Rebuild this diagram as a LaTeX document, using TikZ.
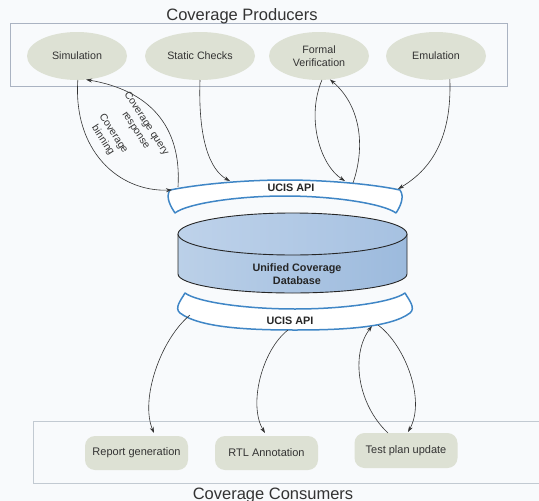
\documentclass[tikz,border=0pt]{standalone}
\usepackage{fontspec}
\setmainfont{Liberation Sans}
\usetikzlibrary{arrows.meta,shapes.geometric}
\definecolor{bg}{HTML}{F8FAFC}
\definecolor{prod}{HTML}{DDE1D4}
\definecolor{boxline}{HTML}{AAB3C2}
\definecolor{boxline2}{HTML}{C2CAD2}
\definecolor{bandblue}{HTML}{3F86C6}
\definecolor{txt}{HTML}{333333}
\definecolor{cyltopA}{HTML}{BED2EA}
\definecolor{cyltopB}{HTML}{A6C1E1}
\definecolor{cylside}{HTML}{9CBADD}
\definecolor{cylhi}{HTML}{BBD0E8}
\begin{document}
\begin{tikzpicture}[x=1pt,y=-1pt,
  prodnode/.style={ellipse, fill=prod, minimum width=100pt, minimum height=48pt, inner sep=0pt, outer sep=0pt, align=center, font=\fontsize{10.7}{12.5}\selectfont, text=txt},
  consnode/.style={rectangle, rounded corners=10pt, fill=prod, minimum width=103pt, minimum height=34pt, inner sep=0pt, outer sep=0pt, font=\fontsize{11}{13}\selectfont, text=txt},
  conn/.style={draw=txt, line width=0.6pt, -{Stealth[length=6pt,width=4pt]}},
  band/.style={draw=bandblue, line width=1.5pt, fill=white, line join=round},
  titletext/.style={font=\fontsize{16.5}{19}\selectfont, text=txt, anchor=base, inner sep=0pt},
  lbl/.style={font=\fontsize{10.3}{12.6}\selectfont, text=txt, align=center, rotate=-57, inner sep=0pt},
  api/.style={font=\bfseries\fontsize{10.8}{13}\selectfont, text=black!85, inner sep=0pt}]
\useasboundingbox (0,0) rectangle (539,501);
\clip (0,0) rectangle (539,501);
\fill[bg] (0,0) rectangle (539,501);

% frames
\draw[boxline, line width=0.8pt] (10,23) rectangle (507,86);
\draw[boxline2, line width=0.9pt] (33,421) rectangle (560,483);
\node[titletext] (ptitle) at (242,20) {Coverage Producers};
\node[titletext] (ctitle) at (273,499) {Coverage Consumers};

% producers
\node[prodnode] (sim) at (77,56) {Simulation};
\node[prodnode, minimum width=110pt] (sc) at (200,56) {Static Checks};
\node[prodnode] (fv) at (319,56) {Formal\\Verification};
\node[prodnode] (em) at (436,56) {Emulation};

% consumers
\node[consnode] (rep) at (136.5,453) {Report generation};
\node[consnode] (rtl) at (266.5,453) {RTL Annotation};
\node[consnode, minimum height=35pt] (tpu) at (406,450.5) {Test plan update};

% database cylinder
\shade[left color=cylhi, right color=cylside]
  (178,234) -- (178,274) .. controls (178,284.5) and (229.3,293) .. (292.5,293)
  .. controls (355.7,293) and (407,284.5) .. (407,274) -- (407,234) -- cycle;
\draw[black!85, line width=0.9pt]
  (178,234) -- (178,274) .. controls (178,284.5) and (229.3,293) .. (292.5,293)
  .. controls (355.7,293) and (407,284.5) .. (407,274) -- (407,234);
\shade[left color=cyltopA, right color=cyltopB, draw=black!85, line width=0.9pt]
  (292.5,234) ellipse [x radius=114.5, y radius=21];
\node[api, align=center] (db) at (297,274.5) {Unified Coverage\\Database};

% top API band
\draw[band] (175,213) .. controls (171,207) and (165,197) .. (170,190)
  .. controls (200,184) and (245,180) .. (285,180)
  .. controls (325,180) and (372,184) .. (400,190)
  .. controls (405,197) and (400,207) .. (396,213)
  .. controls (384,204) and (335,196) .. (285,196)
  .. controls (235,196) and (186,204) .. cycle;
\node[api] (apiT) at (291,188) {UCIS API};

% bottom API band
\draw[band] (185,293) .. controls (181,300) and (174,308) .. (180,313)
  .. controls (200,328) and (250,330) .. (295,330)
  .. controls (340,330) and (390,328) .. (410,313)
  .. controls (416,308) and (409,300) .. (405,293)
  .. controls (393,302) and (345,309) .. (295,309)
  .. controls (245,309) and (197,302) .. cycle;
\node[api] (apiB) at (290,321) {UCIS API};

% connection points on the bands
\coordinate (tA) at (172,190);
\coordinate (tB) at (178,187);
\coordinate (tC) at (230,181);
\coordinate (tD) at (345,181);
\coordinate (tE) at (353,183);
\coordinate (tF) at (398,189);
\coordinate (bA) at (190,315);
\coordinate (bB) at (288,330);
\coordinate (bC) at (372,326);
\coordinate (bD) at (378,325);

% producer connectors
\draw[conn] (sim.-88) .. controls (73,150) and (118,192) .. (tA);
\draw[conn] (tB) .. controls (182,125) and (148,90) .. (sim.-69);
\draw[conn] (sc.-90) .. controls (198,140) and (210,170) .. (tC);
\draw[conn] (fv.-83) .. controls (306,118) and (320,165) .. (tD);
\draw[conn] (tE) .. controls (366,145) and (360,105) .. (fv.-65);
\draw[conn] (em.-59) .. controls (452,140) and (430,170) .. (tF);

% consumer connectors
\draw[conn] (bA) .. controls (160,340) and (140,400) .. ([xshift=17.5pt,yshift=3pt]rep.north);
\draw[conn] (bB) .. controls (262,350) and (248,405) .. ([xshift=-1.5pt,yshift=3pt]rtl.north);
\draw[conn] ([xshift=-18pt]tpu.north) .. controls (358,405) and (350,355) .. (bC);
\draw[conn] (bD) .. controls (405,345) and (426,400) .. ([xshift=2pt,yshift=1pt]tpu.north);

% labels
\node[lbl] (lq) at (141,127) {Coverage query\\response};
\node[lbl] (lb) at (108,137) {Coverage\\binning};
\end{tikzpicture}
\end{document}
